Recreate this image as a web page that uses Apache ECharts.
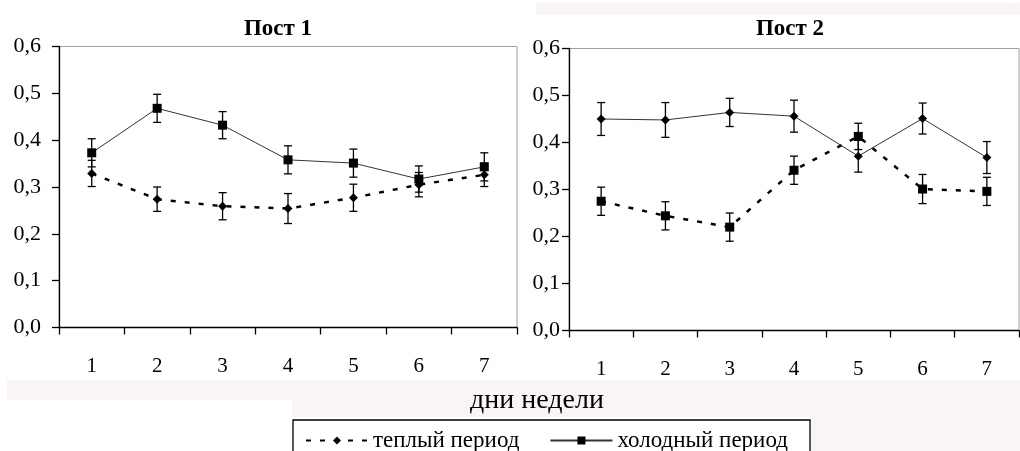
<!DOCTYPE html>
<html>
<head>
<meta charset="utf-8">
<script src="https://cdn.jsdelivr.net/npm/echarts@6/dist/echarts.min.js"></script>
<style>
  html, body { margin: 0; padding: 0; background: #fff; }
  #chart { width: 1020px; height: 451px; }
</style>
</head>
<body>
<div id="chart"></div>
<script>
// days of week
const days = ['1', '2', '3', '4', '5', '6', '7'];

// Пост 1
const post1Warm = [0.329, 0.274, 0.259, 0.254, 0.277, 0.305, 0.326];
const post1WarmErr = [0.028, 0.026, 0.029, 0.032, 0.029, 0.026, 0.025];
const post1Cold = [0.373, 0.468, 0.432, 0.358, 0.351, 0.317, 0.343];
const post1ColdErr = [0.030, 0.030, 0.029, 0.030, 0.030, 0.028, 0.030];

// Пост 2
const post2Warm = [0.275, 0.244, 0.220, 0.341, 0.413, 0.301, 0.296];
const post2WarmErr = [0.030, 0.030, 0.030, 0.030, 0.028, 0.031, 0.030];
const post2Cold = [0.450, 0.448, 0.464, 0.456, 0.371, 0.451, 0.368];
const post2ColdErr = [0.035, 0.037, 0.030, 0.034, 0.034, 0.033, 0.034];

const serif = '"Liberation Serif", "DejaVu Serif", serif';

function errData(vals, errs) {
  return vals.map((v, i) => [i, v - errs[i], v + errs[i]]);
}

function errSeries(idx, vals, errs) {
  return {
    type: 'custom',
    xAxisIndex: idx,
    yAxisIndex: idx,
    silent: true,
    z: 1,
    data: errData(vals, errs),
    renderItem: function (params, api) {
      const lo = api.coord([api.value(0), api.value(1)]);
      const hi = api.coord([api.value(0), api.value(2)]);
      const w = 4;
      const style = { stroke: '#000', lineWidth: 1.3 };
      return {
        type: 'group',
        children: [
          { type: 'line', shape: { x1: lo[0], y1: lo[1], x2: hi[0], y2: hi[1] }, style: style },
          { type: 'line', shape: { x1: lo[0] - w, y1: lo[1], x2: lo[0] + w, y2: lo[1] }, style: style },
          { type: 'line', shape: { x1: hi[0] - w, y1: hi[1], x2: hi[0] + w, y2: hi[1] }, style: style }
        ]
      };
    }
  };
}

function lineSeries(idx, name, vals, dashed, symbol) {
  return {
    name: name,
    type: 'line',
    xAxisIndex: idx,
    yAxisIndex: idx,
    data: vals,
    symbol: symbol,
    symbolSize: 9,
    z: 3,
    itemStyle: { color: '#000' },
    lineStyle: dashed
      ? { color: '#000', width: 2.5, type: [5, 9] }
      : { color: '#333', width: 1 },
    emphasis: { disabled: true }
  };
}

function xAxis(idx) {
  return {
    type: 'category',
    gridIndex: idx,
    data: days,
    boundaryGap: true,
    axisLine: { lineStyle: { color: '#000', width: 1.3 } },
    axisTick: { show: true, length: 7, lineStyle: { color: '#000', width: 1.3 } },
    axisLabel: { color: '#000', fontFamily: serif, fontSize: 21, margin: 28 }
  };
}

function yAxis(idx, margin) {
  return {
    type: 'value',
    gridIndex: idx,
    min: 0,
    max: 0.6,
    interval: 0.1,
    axisLine: { show: true, lineStyle: { color: '#000', width: 1.3 } },
    axisTick: { show: true, length: 7, lineStyle: { color: '#000', width: 1.3 } },
    splitLine: { show: false },
    axisLabel: {
      color: '#000',
      fontFamily: serif,
      fontSize: 22,
      margin: margin,
      formatter: v => v.toFixed(1).replace('.', ',')
    }
  };
}

const band = '#f8f5f4';

const chart = echarts.init(document.getElementById('chart'));
chart.setOption({
  backgroundColor: '#fff',
  animation: false,
  grid: [
    { left: 59, top: 46.5, width: 458, height: 281, show: true, borderColor: '#a0a0a0', borderWidth: 1 },
    { left: 569, top: 48.5, width: 450, height: 282, show: true, borderColor: '#a0a0a0', borderWidth: 1 }
  ],
  xAxis: [xAxis(0), xAxis(1)],
  yAxis: [yAxis(0, 18), yAxis(1, 9)],
  legend: {
    data: ['теплый период', 'холодный период'],
    left: 300,
    top: 424,
    itemWidth: 62,
    itemHeight: 10,
    itemGap: 30,
    textStyle: { color: '#000', fontFamily: serif, fontSize: 23 },
    selectedMode: false
  },
  graphic: [
    { type: 'rect', z: -10, shape: { x: 7, y: 380, width: 1013, height: 20 }, style: { fill: band } },
    { type: 'rect', z: -10, shape: { x: 292, y: 400, width: 728, height: 17 }, style: { fill: band } },
    { type: 'rect', z: -10, shape: { x: 810, y: 417, width: 210, height: 34 }, style: { fill: band } },
    { type: 'rect', z: -10, shape: { x: 536, y: 3, width: 484, height: 12 }, style: { fill: band } },
    { type: 'rect', z: -9, shape: { x: 293, y: 420, width: 517, height: 40 }, style: { fill: '#fff', stroke: '#000', lineWidth: 1.3 } },
    { type: 'text', x: 278, y: 18, style: { text: 'Пост 1', font: 'bold 23px ' + serif, fill: '#000', textAlign: 'center' } },
    { type: 'text', x: 790, y: 18, style: { text: 'Пост 2', font: 'bold 23px ' + serif, fill: '#000', textAlign: 'center' } },
    { type: 'text', x: 537, y: 387, style: { text: 'дни недели', font: '28px ' + serif, fill: '#000', textAlign: 'center' } }
  ],
  series: [
    errSeries(0, post1Warm, post1WarmErr),
    errSeries(0, post1Cold, post1ColdErr),
    lineSeries(0, 'теплый период', post1Warm, true, 'diamond'),
    lineSeries(0, 'холодный период', post1Cold, false, 'rect'),
    errSeries(1, post2Warm, post2WarmErr),
    errSeries(1, post2Cold, post2ColdErr),
    lineSeries(1, 'теплый период (пост 2)', post2Warm, true, 'rect'),
    lineSeries(1, 'холодный период (пост 2)', post2Cold, false, 'diamond')
  ]
});
</script>
</body>
</html>
